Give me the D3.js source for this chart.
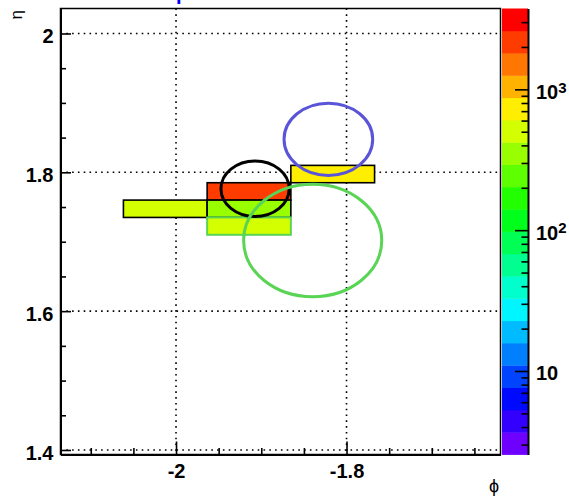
<!DOCTYPE html>
<html><head><meta charset="utf-8">
<script src="https://cdn.jsdelivr.net/npm/d3@7"></script>
<style>body{margin:0;background:#fff}svg{display:block}</style>
</head><body>
<svg id="c" width="569" height="498"></svg>
<script>
// ---- data ----
const cellPhiLo = [-2.0617, -1.9635, -1.9635, -1.9635, -1.8653];
const cellEtaLo = [1.735, 1.76, 1.735, 1.71, 1.785];
const cellValues = [500, 2200, 350, 480, 750];
const binPhi = 0.0982, binEta = 0.025;
const seedCell = 3;
const circlePhi = [-1.9073, -1.8213, -1.8397];
const circleEta = [1.7763, 1.8476, 1.7018];
const circleR = [0.040, 0.052, 0.081];
const xMajor = [-2, -1.8];
const xLabels = ["-2", "-1.8"];
const yMajor = [1.4, 1.6, 1.8, 2.0];
const yLabels = ["1.4", "1.6", "1.8", "2"];
const xMinor = [-2.1, -2.05, -1.95, -1.9, -1.85, -1.75, -1.7, -1.65];
const yMinor = [1.45, 1.5, 1.55, 1.65, 1.7, 1.75, 1.85, 1.9, 1.95];
const zMajor = [10, 100, 1000];
const zMinor = [3,4,5,6,7,8,9,20,30,40,50,60,70,80,90,200,300,400,500,600,700,800,900,2000,3000];
const palette = ["#6e00ff","#3300ff","#0009ff","#0044ff","#0080ff","#00bbff","#00f6ff","#00ffcc","#00ff90","#00ff55",
                 "#00ff1a","#22ff00","#5eff00","#99ff00","#d4ff00","#ffee00","#ffb200","#ff7700","#ff3c00","#ff0000"];
const zDomain = [2.553, 3750];

// ---- layout ----
const L = 60.5, R = 500.5, T = 8.5, B = 454.5;
const CB0 = 502, CB1 = 528;
const svg = d3.select("#c");
const font = "'Liberation Sans', Arial, Helvetica, sans-serif";

const x = d3.scaleLinear().domain([-2.1355, -1.6194]).range([L, R]);
const y = d3.scaleLinear().domain([1.3935, 2.036]).range([B, T]);
const z = d3.scaleLog().domain(zDomain).range([B, T]);
const zl = [Math.log10(zDomain[0]), Math.log10(zDomain[1])];
function colorOf(v){
  let k = Math.floor((Math.log10(v)-zl[0])/(zl[1]-zl[0])*palette.length);
  return palette[Math.max(0, Math.min(palette.length-1, k))];
}

// grid
const g = svg.append("g");
g.selectAll("line.gx").data(xMajor).join("line")
  .attr("x1", d=>x(d)).attr("x2", d=>x(d)).attr("y1", T).attr("y2", B)
  .attr("stroke", "#000").attr("stroke-width", 1.6).attr("stroke-dasharray", "1.6,4.2");
g.selectAll("line.gy").data(yMajor).join("line")
  .attr("y1", d=>y(d)).attr("y2", d=>y(d)).attr("x1", L).attr("x2", R)
  .attr("stroke", "#000").attr("stroke-width", 1.6).attr("stroke-dasharray", "1.6,4.2");

// cells
const cells = cellValues.map((v,i)=>({v, p:cellPhiLo[i], e:cellEtaLo[i], i}));
svg.append("g").selectAll("rect").data(cells).join("rect")
  .attr("x", d=>x(d.p)).attr("width", d=>x(d.p+binPhi)-x(d.p))
  .attr("y", d=>y(d.e+binEta)).attr("height", d=>y(d.e)-y(d.e+binEta))
  .attr("fill", d=>colorOf(d.v))
  .attr("stroke", d=>d.i===seedCell ? "#59d454" : "#000")
  .attr("stroke-width", d=>d.i===seedCell ? 2 : 1.6);

// circles
const circColors = ["#000000", "#5954d8", "#59d454"];
svg.append("g").selectAll("ellipse").data(circleR).join("ellipse")
  .attr("cx", (d,i)=>x(circlePhi[i])).attr("cy", (d,i)=>y(circleEta[i]))
  .attr("rx", d=>x(x.domain()[0]+d)-L).attr("ry", d=>B-y(y.domain()[0]+d))
  .attr("fill", "none").attr("stroke", (d,i)=>circColors[i]).attr("stroke-width", 3);

// frame
svg.append("rect").attr("x", L).attr("y", T).attr("width", R-L).attr("height", B-T)
  .attr("fill", "none").attr("stroke", "#000").attr("stroke-width", 1.5);

// axes
const xa = svg.append("g").attr("transform", `translate(0,${B})`)
  .call(d3.axisBottom(x).tickValues(xMajor).tickSizeInner(-13).tickSizeOuter(0).tickPadding(9)
    .tickFormat((d,i)=>xLabels[i]));
const xm = svg.append("g").attr("transform", `translate(0,${B})`)
  .call(d3.axisBottom(x).tickValues(xMinor).tickSizeInner(-6.5).tickSizeOuter(0).tickFormat(""));
const ya = svg.append("g").attr("transform", `translate(${L},0)`)
  .call(d3.axisLeft(y).tickValues(yMajor).tickSizeInner(-10.5).tickSizeOuter(0).tickPadding(7)
    .tickFormat((d,i)=>yLabels[i]));
const ym = svg.append("g").attr("transform", `translate(${L},0)`)
  .call(d3.axisLeft(y).tickValues(yMinor).tickSizeInner(-5.5).tickSizeOuter(0).tickFormat(""));
ya.selectAll("text").attr("dy", "0.46em");
xm.select(".domain").remove(); ym.select(".domain").remove();
[xa, ya].forEach(a=>{
  a.select(".domain").attr("stroke-width", 2);
  a.selectAll(".tick line").attr("stroke-width", 1.6);
  a.selectAll("text").attr("font-family", font).attr("font-size", 20).attr("font-weight", "bold").attr("fill", "#000");
});
[xm, ym].forEach(a=>a.selectAll(".tick line").attr("stroke-width", 1.6));

// palette bar
const nb = palette.length, bh = (B-T)/nb;
svg.append("g").selectAll("rect").data(palette).join("rect")
  .attr("x", CB0).attr("width", CB1-CB0)
  .attr("y", (d,i)=>B-(i+1)*bh).attr("height", bh+0.4).attr("fill", d=>d);
const za = svg.append("g").attr("transform", `translate(${CB1},0)`)
  .call(d3.axisRight(z).tickValues(zMajor).tickSizeInner(-13).tickSizeOuter(0).tickPadding(8).tickFormat(""));
const zm = svg.append("g").attr("transform", `translate(${CB1},0)`)
  .call(d3.axisRight(z).tickValues(zMinor).tickSizeInner(-6.5).tickSizeOuter(0).tickFormat(""));
zm.select(".domain").remove();
za.select(".domain").attr("stroke-width", 2);
za.selectAll(".tick line").attr("stroke-width", 1.6);
zm.selectAll(".tick line").attr("stroke-width", 1.6);
za.selectAll(".tick").each(function(d){
  const e = Math.round(Math.log10(d));
  const t = d3.select(this).append("text").attr("x", 8).attr("dy", "0.45em")
    .attr("font-family", font).attr("font-size", 20).attr("font-weight", "bold").attr("fill", "#000");
  t.append("tspan").text("10");
  if (e > 1) t.append("tspan").attr("dy", "-0.42em").attr("font-size", 15).text(String(e));
});

// axis titles
svg.append("text").attr("transform", "translate(22,10) rotate(-90)").attr("text-anchor", "end")
  .attr("font-family", font).attr("font-size", 17).text("η");
svg.append("text").attr("x", 499).attr("y", 492).attr("text-anchor", "end")
  .attr("font-family", font).attr("font-size", 18).text("ϕ");
// title (mostly above the top edge, as in the reference)
svg.append("text").attr("x", 176).attr("y", 0).attr("font-family", font).attr("font-size", 20)
  .attr("font-weight", "bold").attr("fill", "#0000ff").text("p");
</script>
</body></html>
